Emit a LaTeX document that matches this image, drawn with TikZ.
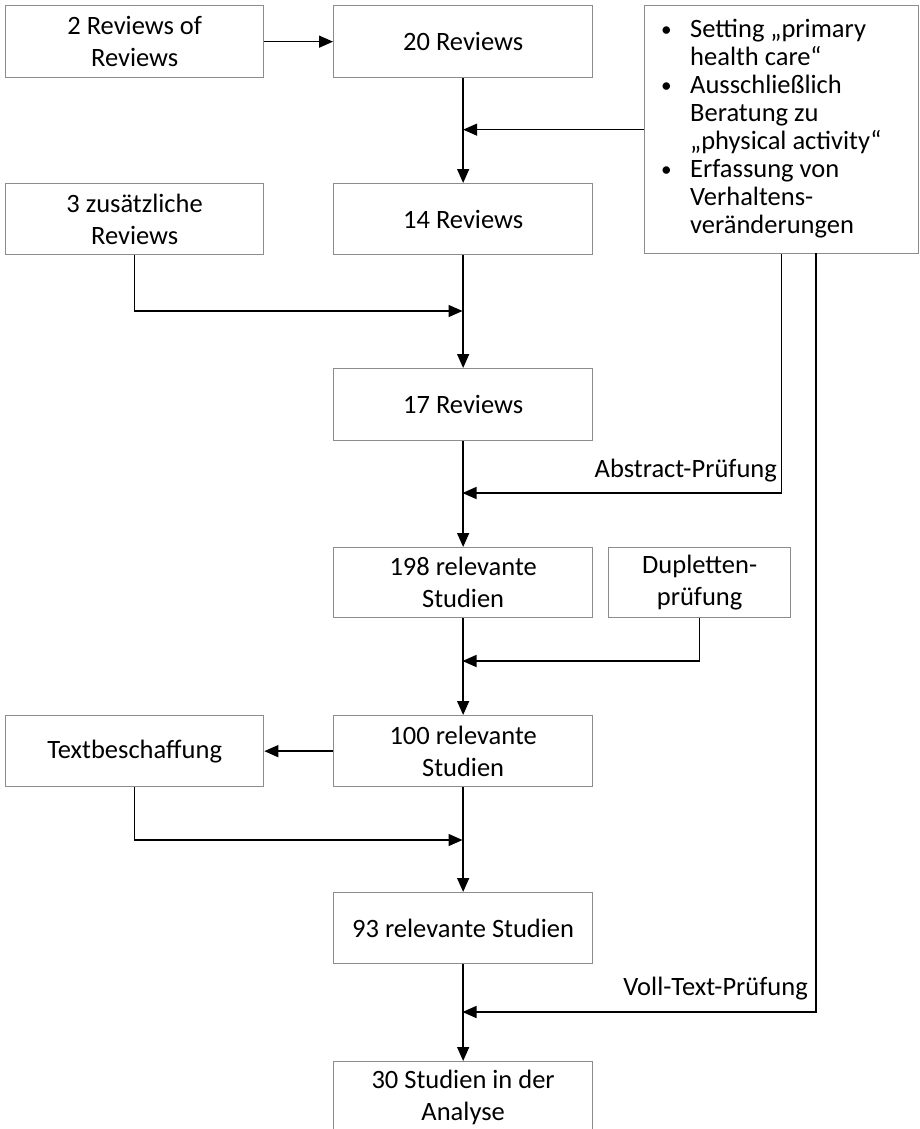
\documentclass[tikz,border=0pt]{standalone}
\usepackage{fontspec}
\setmainfont{Carlito}
\usetikzlibrary{arrows.meta,calc}
\definecolor{boxgray}{RGB}{140,140,140}
\newcommand{\bul}{\makebox[31pt][l]{\hspace*{2pt}\raisebox{1.5pt}{\scalebox{0.8}{•}}}}
\begin{document}
\begin{tikzpicture}[x=1pt,y=-1pt,
  box/.style={draw=boxgray, line width=1.3pt, align=center, inner sep=0pt, anchor=north west, font=\fontsize{26.5}{32}\selectfont},
  conn/.style={line width=1.4pt, -{Triangle[length=14pt,width=12pt]}},
  lab/.style={font=\fontsize{26.5}{32}\selectfont, inner sep=0pt}]
\clip (0,0) rectangle (919,1129);
% boxes
\node[box, minimum width=258pt, minimum height=72pt] (A) at (5,5) {2 Reviews of\\Reviews};
\node[box, minimum width=259pt, minimum height=72pt] (B) at (333,5) {20 Reviews};
\node[box, minimum width=274pt, minimum height=248pt] (C) at (644,5) {};
\node[anchor=west, inner sep=0pt, align=left, font=\fontsize{26.5}{28}\selectfont] (Ct) at (659,129)
  {\bul Setting „primary\\\hspace*{31pt}health care“\\
   \bul Ausschließlich\\\hspace*{31pt}Beratung zu\\\hspace*{31pt}„physical activity“\\
   \bul Erfassung von\\\hspace*{31pt}Verhaltens-\\\hspace*{31pt}veränderungen};
\node[box, minimum width=258pt, minimum height=71pt] (D) at (5,183) {3 zusätzliche\\Reviews};
\node[box, minimum width=259pt, minimum height=71pt] (E) at (333,183) {14 Reviews};
\node[box, minimum width=259pt, minimum height=72pt] (F) at (333,368) {17 Reviews};
\node[box, minimum width=259pt, minimum height=70pt] (G) at (333,547) {198 relevante\\Studien};
\node[box, minimum width=182pt, minimum height=70pt] (H) at (608,547) {Dupletten-\\prüfung};
\node[box, minimum width=259pt, minimum height=71pt] (I) at (333,715) {100 relevante\\Studien};
\node[box, minimum width=258pt, minimum height=71pt] (J) at (5,715) {Textbeschaffung};
\node[box, minimum width=259pt, minimum height=71pt] (K) at (333,892) {93 relevante Studien};
\node[box, minimum width=259pt, minimum height=71pt] (L) at (333,1061) {30 Studien in der\\Analyse};
% labels
\node[lab, anchor=base east] (abs) at (777,477) {Abstract-Prüfung};
\node[lab, anchor=base east] (voll) at (808,995) {Voll-Text-Prüfung};
% junction coordinates
\coordinate (jD) at (462.5,311);
\coordinate (jA) at (462.5,493);
\coordinate (jH) at (462.5,661);
\coordinate (jJ) at (462.5,840);
\coordinate (jV) at (462.5,1012);
\coordinate (cV) at (816,253);
% connectors
\draw[conn] (A.east) -- (B.west);
\draw[conn] (B.south) -- (E.north);
\draw[conn] (C.west) -- (C.west -| B.south);
\draw[conn] (E.south) -- (F.north);
\draw[conn] (D.south) |- (jD);
\draw[conn] (F.south) -- (G.north);
\draw[conn] (C.south) |- (jA);
\draw[conn] (G.south) -- (I.north);
\draw[conn] (H.south) |- (jH);
\draw[conn] (I.west) -- (J.east);
\draw[conn] (I.south) -- (K.north);
\draw[conn] (J.south) |- (jJ);
\draw[conn] (K.south) -- (L.north);
\draw[conn] (cV) |- (jV);
\end{tikzpicture}
\end{document}
